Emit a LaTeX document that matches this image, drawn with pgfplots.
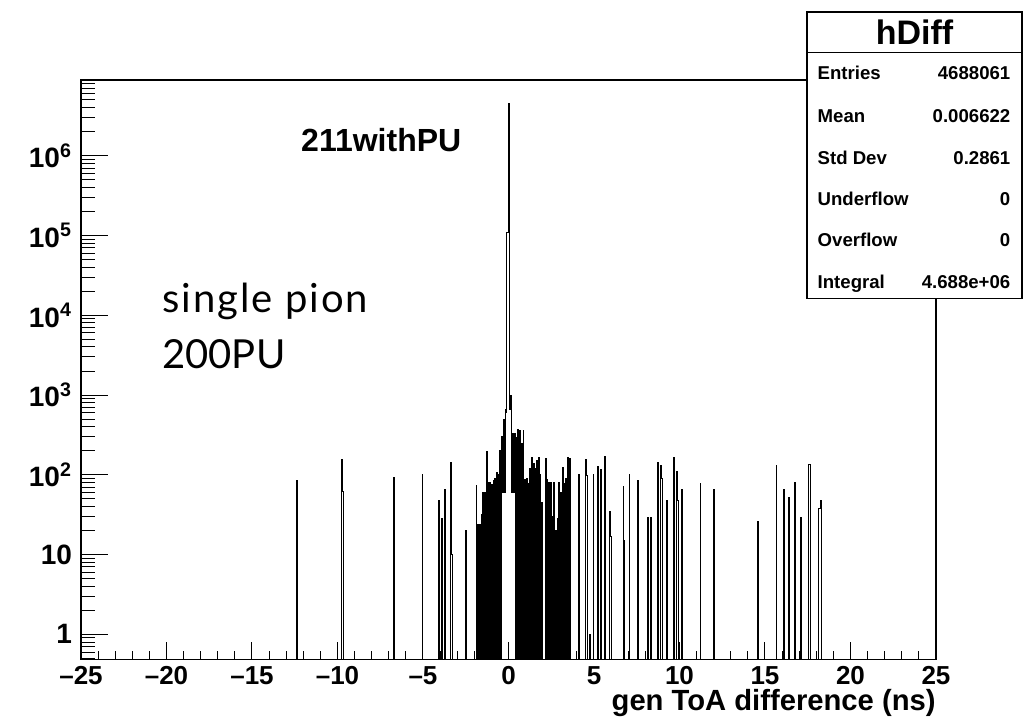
\documentclass[border=0pt]{standalone}
\usepackage{pgfplots}
\pgfplotsset{compat=1.18}
\usepackage{fontspec}
\setmainfont{Liberation Sans}
\newfontfamily\lato{Lato}
\newfontfamily\latowide[LetterSpace=5]{Lato}

\pgfplotstableread{
x y
-25 0.01
-12.40 84
-12.35 0.01
-9.75 157
-9.70 62
-9.65 0.01
-6.70 93
-6.65 0.01
-5.05 100
-5.00 0.01
-4.10 47
-4.05 0.01
-3.90 28
-3.85 0.01
-3.75 65
-3.70 0.01
-3.40 143
-3.35 10
-3.30 0.01
-2.50 20
-2.45 0.01
-1.90 74
-1.85 0.01
-1.80 24
-1.75 0.01
-1.70 24
-1.65 0.01
-1.60 32
-1.55 0.01
-1.50 60
-1.45 0.01
-1.40 60
-1.35 0.01
-1.30 194
-1.25 0.01
-1.20 81
-1.15 0.01
-1.10 80
-1.05 0.01
-1.00 75
-0.95 0.01
-0.90 84
-0.85 0.01
-0.80 90
-0.75 0.01
-0.70 107
-0.65 0.01
-0.60 100
-0.55 0.01
-0.50 200
-0.45 0.01
-0.40 300
-0.35 60
-0.30 500
-0.25 60
-0.20 660
-0.15 600
-0.10 110000
-0.05 110000
0.00 4500000
0.05 660
0.10 1000
0.15 500
0.20 60
0.25 325
0.30 60
0.35 330
0.40 0.01
0.45 295
0.50 0.01
0.55 365
0.60 0.01
0.65 355
0.70 0.01
0.75 250
0.80 0.01
0.85 355
0.90 0.01
0.95 88
1.00 0.01
1.05 90
1.10 0.01
1.15 77
1.20 0.01
1.25 120
1.30 0.01
1.35 165
1.40 0.01
1.45 140
1.50 0.01
1.55 120
1.60 0.01
1.65 150
1.70 0.01
1.75 165
1.80 0.01
1.85 100
1.90 0.01
1.95 45
2.00 0.01
2.15 160
2.20 0.01
2.25 88
2.30 0.01
2.35 80
2.40 0.01
2.45 80
2.50 0.01
2.55 30
2.60 0.01
2.65 80
2.70 0.01
2.75 20
2.80 0.01
2.85 28
2.90 0.01
2.95 80
3.00 0.01
3.05 60
3.10 0.01
3.15 124
3.20 0.01
3.25 77
3.30 0.01
3.35 90
3.40 0.01
3.45 165
3.50 0.01
3.55 160
3.60 0.01
4.10 100
4.15 0.01
4.50 154
4.55 99
4.60 0.01
4.75 1
4.80 0.01
4.95 100
5.00 0.01
5.20 127
5.25 0.01
5.40 115
5.45 0.01
5.60 170
5.65 100
5.70 0.01
5.90 35
5.95 17
6.00 0.01
6.70 71
6.75 15
6.80 0.01
7.05 100
7.10 0.01
7.55 84
7.60 0.01
8.15 29
8.20 0.01
8.30 29
8.35 0.01
8.70 143
8.75 100
8.80 0.01
8.90 130
8.95 90
9.00 0.01
9.25 47
9.30 0.01
9.65 165
9.70 0.01
9.85 110
9.90 47
9.95 0.01
10.10 65
10.15 57
10.20 0.01
11.20 78
11.25 0.01
12.00 65
12.05 0.01
14.55 26
14.60 0.01
15.65 130
15.70 0.01
16.10 65
16.15 0.01
16.40 52
16.45 0.01
16.75 80
16.80 0.01
17.10 29
17.15 0.01
17.55 136
17.60 136
17.65 0.01
18.15 38
18.20 38
18.25 47
18.30 0.01
25 0.01
}\hdiff

\begin{document}
\begin{tikzpicture}
\path[use as bounding box] (-40.5pt,-29.85pt) rectangle (472pt,329.65pt);
\begin{axis}[
  at={(0,0)}, anchor=south west,
  scale only axis, width=427.5pt, height=289.65pt,
  xmin=-25, xmax=25,
  ymode=log, ymin=0.486, ymax=8.9e6,
  xtick={-25,-20,-15,-10,-5,0,5,10,15,20,25},
  xticklabels={–25,–20,–15,–10,–5,0,5,10,15,20,25},
  minor x tick num=4,
  ytick={1,10,100,1000,10000,100000,1000000},
  yticklabels={1,10,10\textsuperscript{2},10\textsuperscript{3},10\textsuperscript{4},10\textsuperscript{5},10\textsuperscript{6}},
  minor ytick={0.5,0.6,0.7,0.8,0.9,2,3,4,5,6,7,8,9,20,30,40,50,60,70,80,90,200,300,400,500,600,700,800,900,2000,3000,4000,5000,6000,7000,8000,9000,20000,30000,40000,50000,60000,70000,80000,90000,200000,300000,400000,500000,600000,700000,800000,900000,2000000,3000000,4000000,5000000,6000000,7000000,8000000},
  tick pos=left, tick align=inside,
  xtick style={/pgfplots/major tick length=8.5pt, /pgfplots/minor tick length=4pt, line width=0.5pt, black},
  ytick style={/pgfplots/major tick length=13.5pt, /pgfplots/minor tick length=7pt, line width=0.5pt, black},
  axis line style={line width=0.6pt},
  xticklabel style={font=\bfseries\fontsize{13}{15}\selectfont, anchor=base, yshift=-12.8pt},
  yticklabel style={font=\bfseries\fontsize{14}{16}\selectfont, anchor=east, xshift=-1pt},
  xlabel={gen ToA difference (ns)},
  xlabel style={font=\bfseries\fontsize{14.6}{16}\selectfont, inner sep=0pt, at={(axis description cs:1,0)}, anchor=base east, yshift=-25.85pt},
]
\addplot[const plot mark left, black, line width=0.5pt, mark=none] table[x=x,y=y] {\hdiff};
\end{axis}
% in-plot labels
\node[anchor=base east, font=\bfseries\fontsize{16}{18}\selectfont, inner sep=0pt] at (190.35pt,253.8pt) {211withPU};
\node[anchor=base west, font=\latowide\fontsize{20}{24}\selectfont, inner sep=0pt] at (40.5pt,173.15pt) {single pion};
\node[anchor=base west, font=\lato\fontsize{20}{24}\selectfont, inner sep=0pt] at (40.5pt,145.5pt) {200PU};
% stats box
\draw[line width=0.6pt, fill=white] (363pt,180.5pt) rectangle (470.5pt,323.65pt);
\draw[line width=0.6pt] (363pt,303.3pt) -- (470.5pt,303.3pt);
\node[font=\bfseries\fontsize{17}{19}\selectfont, inner sep=0pt] at (416.75pt,313.5pt) {hDiff};
\begin{scope}[every node/.style={font=\bfseries\fontsize{9.3}{11}\selectfont, inner sep=0pt}]
\node[anchor=base west] at (368.15pt,289.65pt) {Entries};
\node[anchor=base east] at (464.85pt,289.65pt) {4688061};
\node[anchor=base west] at (368.15pt,268.3pt) {Mean};
\node[anchor=base east] at (464.85pt,268.3pt) {0.006622};
\node[anchor=base west] at (368.15pt,247.15pt) {Std Dev};
\node[anchor=base east] at (464.85pt,247.15pt) {0.2861};
\node[anchor=base west] at (368.15pt,226.8pt) {Underflow};
\node[anchor=base east] at (464.85pt,226.8pt) {0};
\node[anchor=base west] at (368.15pt,206.3pt) {Overflow};
\node[anchor=base east] at (464.85pt,206.3pt) {0};
\node[anchor=base west] at (368.15pt,185.45pt) {Integral};
\node[anchor=base east] at (464.85pt,185.45pt) {4.688e+06};
\end{scope}
\end{tikzpicture}
\end{document}
